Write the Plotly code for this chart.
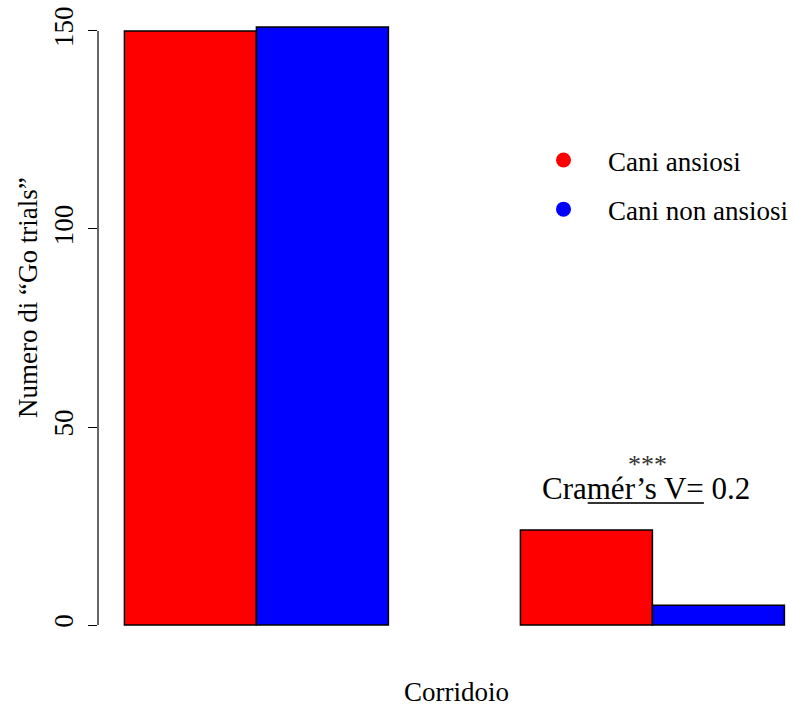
import plotly.graph_objects as go

# Data
groups = ["Cani ansiosi", "Cani non ansiosi"]
colors = ["#FF0000", "#0000FF"]
red_values = [150, 24]
blue_values = [151, 5]
red_positions = [1.5, 4.5]
blue_positions = [2.5, 5.5]
y_ticks = [0, 50, 100, 150]
x_title = "Corridoio"
y_title = "Numero di “Go trials”"
stat_text = "Cramér’s V= 0.2"
signif_text = "***"

FONT = "Liberation Serif, Times New Roman, serif"
FS = 27

W, H = 795, 706
ML, MR, MT, MB = 98, 0, 3, 57
pw = W - ML - MR
ph = H - MT - MB

fig = go.Figure()
for name, col, xs, vals in [(groups[0], colors[0], red_positions, red_values),
                            (groups[1], colors[1], blue_positions, blue_values)]:
    fig.add_trace(go.Bar(x=xs, y=vals, width=1, marker=dict(color=col, line=dict(color="black", width=1.5)),
                         showlegend=False, hoverinfo="skip"))
for i, (name, col) in enumerate(zip(groups, colors)):
    fig.add_trace(go.Scatter(x=[None], y=[None], mode="markers", name=name,
                             marker=dict(color=col, size=15, symbol="circle"),
                             legendgroup=f"g{i}", showlegend=True))

xr = [0.8, 0.8 + pw / 132.0]
yr = [-6.04, 157.04]

fig.update_layout(
    width=W, height=H,
    margin=dict(l=ML, r=MR, t=MT, b=MB, autoexpand=False),
    plot_bgcolor="white", paper_bgcolor="white",
    font=dict(family=FONT, size=FS, color="black"),
    barmode="overlay",
    xaxis=dict(range=xr, visible=False, automargin=False),
    yaxis=dict(range=yr, tickvals=y_ticks, ticks="outside", ticklen=9, tickwidth=1.2, tickcolor="black",
               tickangle=-90, showgrid=False, zeroline=False, showline=False, automargin=False,
               tickfont=dict(family=FONT, size=FS), ticklabelstandoff=4),
    legend=dict(x=(519 - ML) / pw, y=1 - (136 - MT) / ph, xanchor="left", yanchor="top",
                bgcolor="rgba(0,0,0,0)", font=dict(family=FONT, size=FS),
                itemwidth=79, tracegroupgap=11, traceorder="grouped"),
    showlegend=True,
)

# y axis line (R style: only spans ticks)
fig.add_shape(type="line", xref="paper", yref="y", x0=0, x1=0, y0=y_ticks[0], y1=y_ticks[-1],
              line=dict(color="black", width=1.2))

# axis titles
fig.add_annotation(text=x_title, xref="paper", yref="paper", x=(457 - ML) / pw, y=-(692 - MT - ph) / ph,
                   showarrow=False, font=dict(family=FONT, size=FS), xanchor="center", yanchor="middle")
fig.add_annotation(text=y_title, xref="paper", yref="paper", x=(28 - ML) / pw, y=1 - (298 - MT) / ph,
                   showarrow=False, textangle=-90, font=dict(family=FONT, size=FS),
                   xanchor="center", yanchor="middle")

# statistical annotation
fig.add_shape(type="line", xref="x", yref="y", x0=4.51, x1=5.39, y0=30.8, y1=30.8,
              line=dict(color="#333333", width=2))
fig.add_annotation(text=stat_text, xref="x", yref="y", x=4.95, y=34.6, showarrow=False,
                   font=dict(family=FONT, size=31), xanchor="center", yanchor="middle")
fig.add_annotation(text=signif_text, xref="x", yref="y", x=4.96, y=40.6, showarrow=False,
                   font=dict(family=FONT, size=26, color="#333333"), xanchor="center", yanchor="middle")

fig.write_html("out.html", config={"displayModeBar": False},
               post_script="document.body.style.margin='0px';document.body.style.overflow='hidden';")
